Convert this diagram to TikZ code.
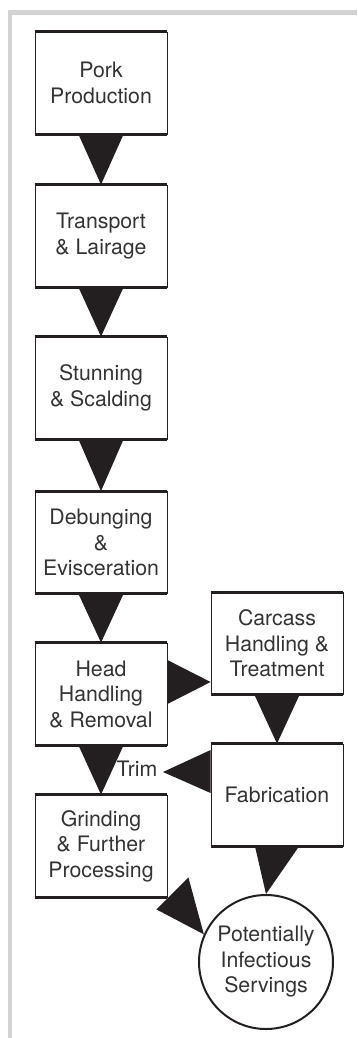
\documentclass[tikz,border=0pt]{standalone}
\usepackage{fontspec}
\setmainfont{TeX Gyre Heros}
\usetikzlibrary{calc}
\definecolor{txt}{HTML}{333333}
\definecolor{tri}{HTML}{231F20}
\definecolor{frame}{HTML}{D3D3D3}
\begin{document}
\begin{tikzpicture}[x=1pt,y=-1pt,
  stage/.style={draw=tri,line width=0.8pt,minimum width=132pt,minimum height=102pt,
    inner sep=0pt,align=center,text=txt,font=\fontsize{21.3}{25.5}\selectfont},
  endcircle/.style={circle,draw=tri,line width=2pt,minimum size=134pt,inner sep=0pt,
    align=center,text=txt,font=\fontsize{21.3}{25.5}\selectfont},
  lab/.style={text=txt,font=\fontsize{21.3}{25.5}\selectfont,inner sep=0pt},
  flow/.style={fill=tri,draw=none},
  thickedge/.style={draw=tri,line width=3pt}]
\useasboundingbox (0,0) rectangle (357,1038);
% frame corner
\fill[frame] (8,10) rectangle (357,15);
\fill[frame] (8,10) rectangle (12,1038);
% nodes
\node[stage] (pork) at (101,83) {Pork\\Production};
\node[stage] (trans) at (101,236) {Transport\\\& Lairage};
\node[stage] (stun) at (101,388) {Stunning\\\& Scalding};
\node[stage] (debung) at (101,542.5) {Debunging\\\&\\Evisceration};
\node[stage] (head) at (101,694) {Head\\Handling\\\& Removal};
\node[stage] (grind) at (101,846) {Grinding\\\& Further\\Processing};
\node[stage] (carc) at (277,643.5) {Carcass\\Handling \&\\Treatment};
\node[stage] (fab) at (277,795) {Fabrication};
\node[endcircle] (serv) at (266,962) {Potentially\\Infectious\\Servings};
\node[lab] (trim) at (137,769) {Trim};
\coordinate (trimtip) at (163,772);
% thick top and bottom edges
\foreach \n in {pork,trans,stun,debung,head,grind,carc,fab}{
  \draw[thickedge] (\n.north west) -- (\n.north east);
  \draw[thickedge] (\n.south west) -- (\n.south east);
}
% vertical connectors
\foreach \a/\b in {pork/trans,trans/stun,stun/debung,debung/head,head/grind,carc/fab}{
  \fill[flow] ($(\a.south)+(-22.5,0)$) -- ($(\a.south)+(22.5,0)$) -- (\b.north) -- cycle;
}
\fill[flow] ($(fab.south)+(-22,0)$) -- ($(fab.south)+(22,0)$) -- (serv.north) -- cycle;
% head -> carcass
\fill[flow] ($(head.east)+(0,-34)$) -- ($(head.east)+(0,10)$) -- ($(carc.west)+(0,38.5)$) -- cycle;
% fabrication -> trim
\fill[flow] ($(fab.west)+(0,-45)$) -- ($(fab.west)+(0,-2)$) -- (trimtip) -- cycle;
% grinding -> servings
\fill[flow] ($(grind.south east)+(-11,12)$) -- ($(grind.south east)+(21,-20)$) -- (serv.156) -- cycle;
\end{tikzpicture}
\end{document}
